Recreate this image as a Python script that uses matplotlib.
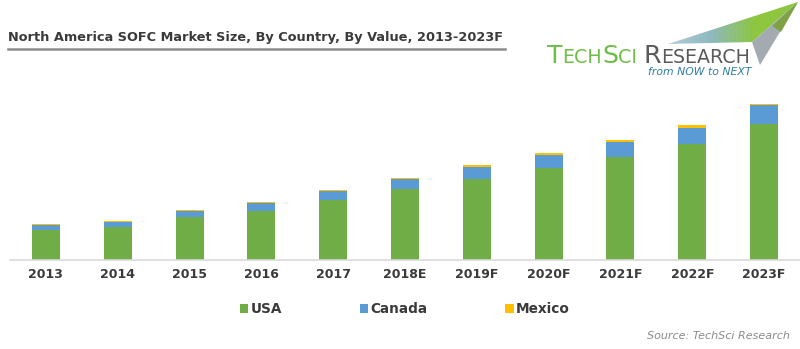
import matplotlib.pyplot as plt
from matplotlib.colors import LinearSegmentedColormap
from matplotlib.patches import Polygon
import numpy as np

years = ["2013", "2014", "2015", "2016", "2017", "2018E",
         "2019F", "2020F", "2021F", "2022F", "2023F"]
usa = [30, 33, 43, 49, 60, 70.5, 80.5, 92, 103, 116, 136]
canada = [4.7, 4.4, 5.7, 7.4, 8.3, 10.3, 12.3, 13, 14.4, 16, 18.3]
mexico = [1.0, 1.0, 1.0, 1.3, 1.3, 1.0, 1.4, 1.6, 2.0, 2.3, 1.4]

GREEN = "#70AD47"
BLUE = "#5B9BD5"
YELLOW = "#FFC000"
TEXT = "#3a3a3a"

W, H = 800, 349
fig = plt.figure(figsize=(W / 100, H / 100), dpi=100)
ax = fig.add_axes([10 / W, 89.5 / H, 790 / W, 160 / H])

x = np.arange(len(years))
bw = 0.39
ax.bar(x, usa, bw, color=GREEN, label="USA")
ax.bar(x, canada, bw, bottom=usa, color=BLUE, label="Canada")
ax.bar(x, mexico, bw, bottom=np.add(usa, canada), color=YELLOW, label="Mexico")

ax.set_xlim(-0.5, len(years) - 0.5)
ax.set_ylim(0, 160)
for side in ["top", "right", "left"]:
    ax.spines[side].set_visible(False)
ax.spines["bottom"].set_color("#d9d9d9")
ax.spines["bottom"].set_linewidth(1.2)
ax.set_yticks([])
ax.set_xticks(x)
ax.set_xticklabels(years, fontsize=9, fontweight="bold", color=TEXT)
ax.tick_params(axis="x", length=0, pad=6)

# legend row
leg = ax.legend(loc="upper center", bbox_to_anchor=(0.5, -0.19), ncol=3,
                frameon=False, handlelength=0.6, handleheight=0.6,
                handletextpad=0.2, columnspacing=5.7,
                prop={"size": 9.8, "weight": "bold"})
for t in leg.get_texts():
    t.set_color(TEXT)

# title with underline
fig.text(8 / W, 1 - 38 / H, "North America SOFC Market Size, By Country, By Value, 2013-2023F",
         fontsize=9.3, fontweight="bold", color=TEXT, va="center", ha="left")
fig.add_artist(plt.Line2D([8 / W, 505 / W], [1 - 48.5 / H, 1 - 48.5 / H],
                          color="#8c8c8c", linewidth=1.8))

# logo swoosh, drawn on a pixel-coordinate overlay
lax = fig.add_axes([0, 0, 1, 1], zorder=-1)
lax.set_xlim(0, W)
lax.set_ylim(H, 0)
lax.axis("off")
band = Polygon([(668, 44), (798, 2), (752, 42)], closed=True,
               facecolor="none", edgecolor="none")
lax.add_patch(band)
cmap = LinearSegmentedColormap.from_list("band", ["#b5cdd6", "#8fb8c0", "#8dc63f", "#8dc63f"])
grad = np.linspace(0, 1, 256).reshape(1, -1)
img = lax.imshow(grad, cmap=cmap, extent=(668, 798, 44, 2), aspect="auto")
img.set_clip_path(band)
lax.add_patch(Polygon([(752, 42), (798, 2), (760, 65)], closed=True,
                      facecolor="#a3abb1", edgecolor="none"))
lax.add_patch(Polygon([(772, 26), (798, 2), (781, 32)], closed=True,
                      facecolor="#7fa344", edgecolor="none"))

# logo text in small caps: pieces laid out left to right by measured width
pieces = [("T", 18.3, "#6dbe45"), ("ECH", 13.7, "#6dbe45"), ("S", 18.3, "#6dbe45"),
          ("CI ", 13.7, "#6dbe45"), ("R", 18.3, "#5a5a5a"), ("ESEARCH", 13.7, "#5a5a5a")]
logo = [fig.text(0, 0, txt, fontsize=size, color=col, ha="left", va="baseline")
        for txt, size, col in pieces]
fig.canvas.draw()
renderer = fig.canvas.get_renderer()
xpos = 547
for t in logo:
    t.set_position((xpos / W, 1 - 63 / H))
    xpos += t.get_window_extent(renderer).width

fig.text(751 / W, 1 - 72 / H, "from NOW to NEXT", fontsize=7.8, style="italic",
         color="#2e7da0", ha="right", va="center")

fig.text(790 / W, 1 - 336 / H, "Source: TechSci Research", fontsize=8,
         style="italic", color="#8a8a8a", ha="right", va="center")

fig.savefig("out.png", dpi=100)
